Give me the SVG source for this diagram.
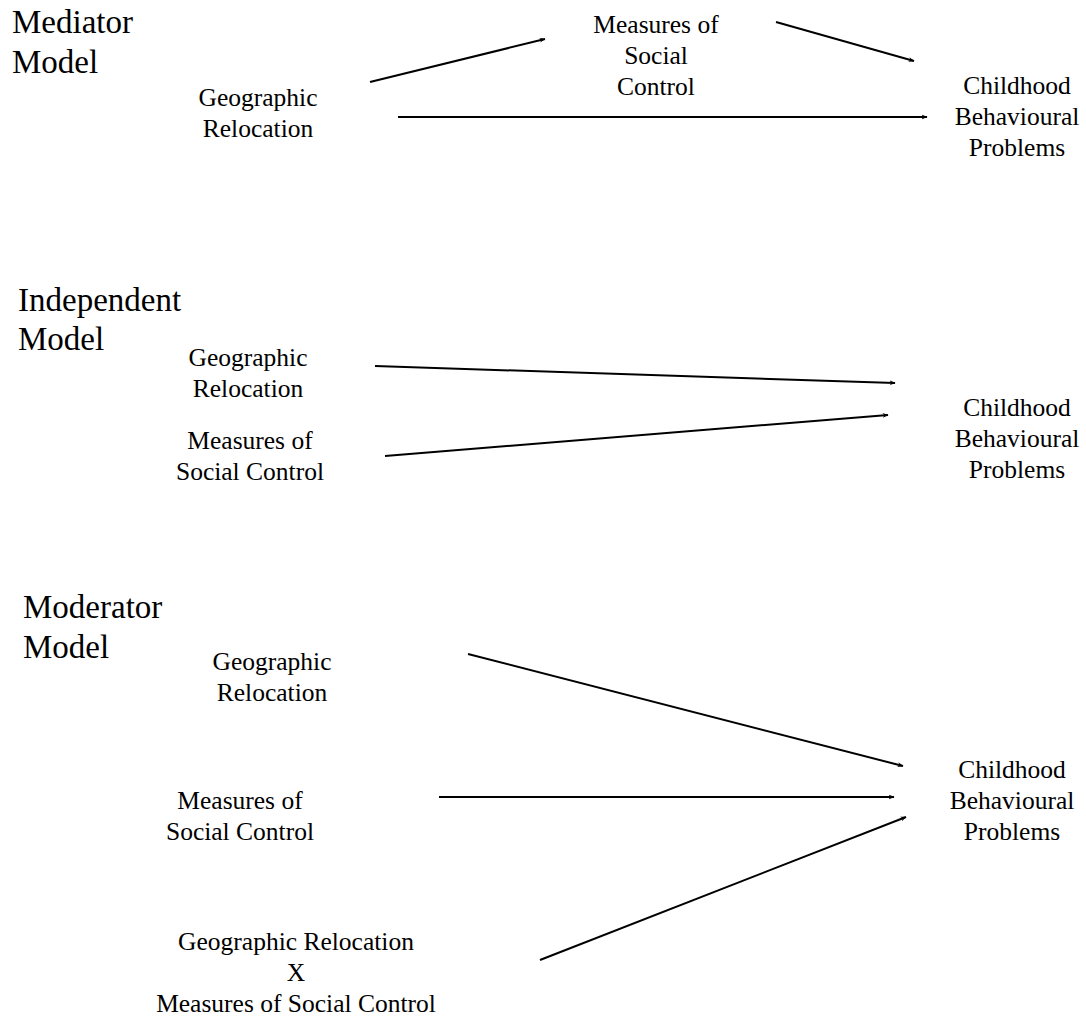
<svg xmlns="http://www.w3.org/2000/svg" width="1086" height="1019" viewBox="0 0 1086 1019">
<defs>
<style>
text{font-family:"Liberation Serif","Times New Roman",Times,serif;fill:#000}
.title{font-size:33px}
.node{font-size:25.5px;text-anchor:middle}
.edge{stroke:#000;stroke-width:2;fill:none;marker-end:url(#arr)}
</style>
<marker id="arr" viewBox="0 0 10 10" refX="9" refY="5" markerWidth="6" markerHeight="6" orient="auto" markerUnits="userSpaceOnUse">
<path d="M0,1 L10,5 L0,9 L3,5 Z" fill="#000"/>
</marker>
</defs>
<rect width="1086" height="1019" fill="#fff"/>

<g id="title-mediator"><text class="title" x="12" y="33">Mediator</text><text class="title" x="12" y="73">Model</text></g>
<g id="med-geo"><text class="node" x="258" y="106">Geographic</text><text class="node" x="258" y="137">Relocation</text></g>
<g id="med-msc"><text class="node" x="656" y="33">Measures of</text><text class="node" x="656" y="64">Social</text><text class="node" x="656" y="95">Control</text></g>
<g id="med-cbp"><text class="node" x="1017" y="94">Childhood</text><text class="node" x="1017" y="125">Behavioural</text><text class="node" x="1017" y="156">Problems</text></g>

<g id="title-independent"><text class="title" x="18" y="311">Independent</text><text class="title" x="18" y="350">Model</text></g>
<g id="ind-geo"><text class="node" x="248" y="366">Geographic</text><text class="node" x="248" y="397">Relocation</text></g>
<g id="ind-msc"><text class="node" x="250" y="449">Measures of</text><text class="node" x="250" y="480">Social Control</text></g>
<g id="ind-cbp"><text class="node" x="1017" y="416">Childhood</text><text class="node" x="1017" y="447">Behavioural</text><text class="node" x="1017" y="478">Problems</text></g>

<g id="title-moderator"><text class="title" x="23" y="618">Moderator</text><text class="title" x="23" y="658">Model</text></g>
<g id="mod-geo"><text class="node" x="272" y="670">Geographic</text><text class="node" x="272" y="701">Relocation</text></g>
<g id="mod-msc"><text class="node" x="240" y="809">Measures of</text><text class="node" x="240" y="840">Social Control</text></g>
<g id="mod-int"><text class="node" x="296" y="950">Geographic Relocation</text><text class="node" x="296" y="981">X</text><text class="node" x="296" y="1012">Measures of Social Control</text></g>
<g id="mod-cbp"><text class="node" x="1012" y="778">Childhood</text><text class="node" x="1012" y="809">Behavioural</text><text class="node" x="1012" y="840">Problems</text></g>

<g id="connectors">
<line class="edge" x1="370" y1="82" x2="545" y2="39"/>
<line class="edge" x1="776" y1="22" x2="914" y2="61"/>
<line class="edge" x1="398" y1="117" x2="927" y2="117"/>
<line class="edge" x1="375" y1="366" x2="895" y2="383"/>
<line class="edge" x1="385" y1="456" x2="888" y2="415"/>
<line class="edge" x1="468" y1="654" x2="903" y2="766"/>
<line class="edge" x1="439" y1="797" x2="894" y2="797"/>
<line class="edge" x1="540" y1="960" x2="906" y2="817"/>
</g>
</svg>
